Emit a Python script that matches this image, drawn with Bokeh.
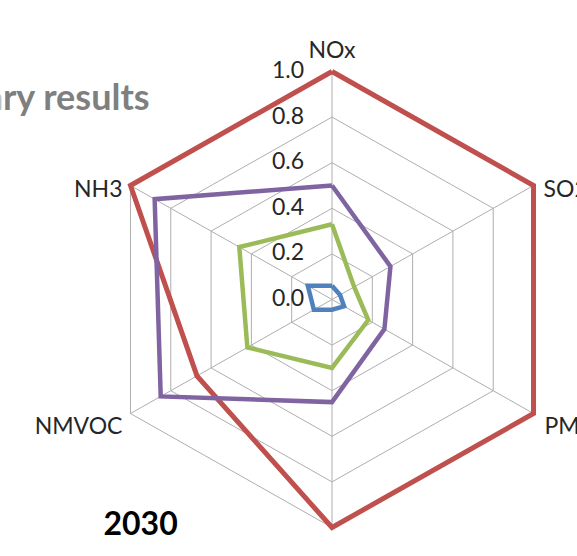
import numpy as np
from bokeh.plotting import figure
from bokeh.models import Range1d
from bokeh.core.properties import value
from bokeh.embed import file_html
from bokeh.resources import INLINE

# ---------------- data ----------------
categories = ["NOx", "SO2", "PM2.5", "PM10", "NMVOC", "NH3"]
series_red = [1.00, 1.00, 1.00, 1.00, 0.67, 1.00]
series_purple = [0.50, 0.29, 0.26, 0.45, 0.85, 0.88]
series_green = [0.33, 0.11, 0.18, 0.30, 0.42, 0.46]
series_blue = [0.06, 0.04, 0.06, 0.045, 0.09, 0.12]
tick_values = [0.0, 0.2, 0.4, 0.6, 0.8, 1.0]
tick_labels = ["0.0", "0.2", "0.4", "0.6", "0.8", "1.0"]
title_fragment = "ary results"
year_label = "2030"

# ---------------- geometry (picture pixels) ----------------
CX, CY = 331.5, 307.0   # centre of radar
RX, RY = 232.7, 228.0   # radius in px (horizontal / vertical)
PIC_W, PIC_H = 577, 556
OFF_X, OFF_Y = 0, 8     # where the canvas lands in the picture


def px_x(px):
    return (px - CX) / RX


def px_y(py):
    return (CY - py) / RY


angles = np.deg2rad(90 - 60 * np.arange(len(categories)))
cosA, sinA = np.cos(angles), np.sin(angles)

p = figure(width=PIC_W - OFF_X, height=PIC_H - OFF_Y,
           x_range=Range1d(px_x(OFF_X), px_x(PIC_W)),
           y_range=Range1d(px_y(PIC_H), px_y(OFF_Y)),
           output_backend="svg", toolbar_location=None,
           x_axis_location=None, y_axis_location=None,
           min_border=0, background_fill_color="white",
           border_fill_color="white")
p.grid.visible = False
p.outline_line_color = None

GRID = "#AEAEAE"
# rings
ring_xs, ring_ys = [], []
for t in tick_values[1:]:
    ring_xs.append(list(np.append(t * cosA, t * cosA[0])))
    ring_ys.append(list(np.append(t * sinA, t * sinA[0])))
p.multi_line(ring_xs, ring_ys, line_color=GRID, line_width=1)
# spokes
outer = tick_values[-1]
p.segment(x0=[0] * len(categories), y0=[0] * len(categories),
          x1=list(outer * cosA), y1=list(outer * sinA),
          line_color=GRID, line_width=1)


def closed(vals):
    v = np.array(vals)
    xs = np.append(v * cosA, v[0] * cosA[0])
    ys = np.append(v * sinA, v[0] * sinA[0])
    return list(xs), list(ys)


for vals, col, lw in [(series_red, "#C0504D", 5),
                      (series_purple, "#8064A2", 4.5),
                      (series_green, "#9BBB59", 4.5),
                      (series_blue, "#4F81BD", 4.5)]:
    xs, ys = closed(vals)
    p.line(xs, ys, line_color=col, line_width=lw, line_join="miter")

FONT = value("Lato")
TXT = "#262626"

# tick labels along the vertical (NOx) axis
p.text(x=[0] * len(tick_values), y=tick_values, text=tick_labels,
       x_offset=-28, y_offset=-2, text_align="right", text_baseline="middle",
       text_font=FONT, text_font_size="23px", text_color=TXT)

# category labels
label_style = [  # align, x_offset, y_offset (baseline alphabetic)
    ("center", 0, -23),
    ("left", 10, 2),
    ("left", 11, 11),
    ("center", 0, 35),
    ("right", -8, 11),
    ("right", -8, 2),
]
for i, cat in enumerate(categories):
    al, xo, yo = label_style[i]
    p.text(x=[outer * cosA[i]], y=[outer * sinA[i]], text=[cat],
           x_offset=xo, y_offset=yo, text_align=al,
           text_baseline="alphabetic", text_font=FONT,
           text_font_size="23px", text_color=TXT)

# slide texts
p.text(x=[px_x(150)], y=[px_y(103)], text=[title_fragment],
       text_align="right", text_baseline="alphabetic", text_font=FONT,
       text_font_style="bold", text_font_size="36px", text_color="#7F7F7F")
p.text(x=[px_x(103)], y=[px_y(530)], text=[year_label],
       text_align="left", text_baseline="alphabetic", text_font=FONT,
       text_font_style="bold", text_font_size="32px", text_color="#000000")

open("out.html", "w").write(file_html(p, INLINE))
